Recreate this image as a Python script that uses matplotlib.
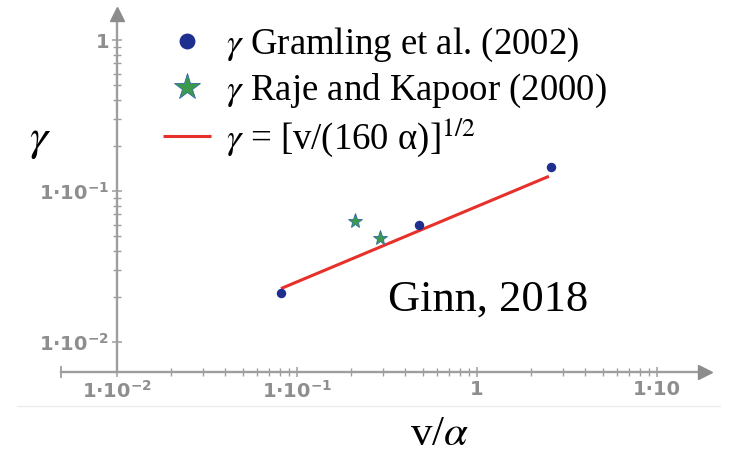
import numpy as np
import matplotlib
matplotlib.use("Agg")
import matplotlib.pyplot as plt
from matplotlib.lines import Line2D
from matplotlib.ticker import NullFormatter

# =========================================================
# Data
# =========================================================

gram_x = [0.082, 0.478, 2.58]
gram_y = [0.021, 0.0596, 0.1435]

raje_x = [0.21, 0.289]
raje_y = [0.0637, 0.0491]

fit_x = [0.0815, 2.51]
fit_y = [0.0226, 0.1252]

x_ticks = [0.01, 0.1, 1, 10]
x_labels = [r"1·10$^{\mathbf{-2}}$", r"1·10$^{\mathbf{-1}}$", "1", "1·10"]
y_ticks = [0.01, 0.1, 1]
y_labels = [r"1·10$^{\mathbf{-2}}$", r"1·10$^{\mathbf{-1}}$", "1"]

# =========================================================
# Style
# =========================================================

plt.rcParams["font.family"] = ["Liberation Serif", "DejaVu Serif"]
plt.rcParams["mathtext.fontset"] = "stix"

AXIS_COLOR = "#9e9e9e"
LABEL_COLOR = "#8e8e8e"
AXIS_Y = 10 ** -2.2

fig = plt.figure(figsize=(7.36, 4.55), dpi=100)
ax = fig.add_axes([0, 0, 1, 1])
ax.set_facecolor("none")

ax.set_xscale("log")
ax.set_yscale("log")
ax.set_xlim(10 ** -2.65, 10 ** 1.439)
ax.set_ylim(10 ** -2.748, 10 ** 0.265)

# =========================================================
# Axes drawn Mathcad style
# =========================================================

for side in ["top", "right"]:
    ax.spines[side].set_visible(False)

ax.spines["left"].set_position(("data", 0.01))
ax.spines["bottom"].set_position(("data", AXIS_Y))
ax.spines["left"].set_bounds(AXIS_Y, 10 ** 0.14)
ax.spines["bottom"].set_bounds(10 ** -2.31, 10 ** 1.23)
for side in ["left", "bottom"]:
    ax.spines[side].set_color(AXIS_COLOR)
    ax.spines[side].set_linewidth(1.7)

# arrow heads and left end cap
ax.plot([10 ** 1.265], [AXIS_Y], marker=">", ms=10, color="#8c8c8c",
        clip_on=False, zorder=3)
ax.plot([0.01], [10 ** 0.172], marker="^", ms=10, color="#8c8c8c",
        clip_on=False, zorder=3)
ax.plot([10 ** -2.31], [AXIS_Y], marker="|", ms=9, mew=1.3,
        color=AXIS_COLOR, clip_on=False)

minor_x = [k * 10.0 ** e for e in (-2, -1, 0) for k in range(2, 10)]
minor_y = [k * 10.0 ** e for e in (-2, -1) for k in range(2, 10)]

ax.set_xticks(x_ticks, labels=x_labels)
ax.set_yticks(y_ticks, labels=y_labels)
ax.set_xticks(minor_x, minor=True)
ax.set_yticks(minor_y, minor=True)
ax.xaxis.set_minor_formatter(NullFormatter())
ax.yaxis.set_minor_formatter(NullFormatter())

ax.tick_params(which="major", direction="inout", length=7.5, width=1.1,
               color=AXIS_COLOR, pad=2, labelsize=14,
               labelcolor=LABEL_COLOR)
ax.tick_params(which="minor", direction="inout", length=6, width=1.0,
               color=AXIS_COLOR)
for lab in ax.get_xticklabels() + ax.get_yticklabels():
    lab.set_family("DejaVu Sans")
    lab.set_weight("bold")
    lab.set_math_fontfamily("dejavusans")

# =========================================================
# Data marks
# =========================================================

ax.plot(fit_x, fit_y, color="#e8302a", lw=2.2, solid_capstyle="butt",
        label=r"$\gamma$ = [v/(160 α)]$^{1/2}$", zorder=4)
ax.plot(gram_x, gram_y, ls="none", marker="o", ms=5.8, color="#1f2f8f",
        label=r"$\gamma$ Gramling et al. (2002)", zorder=5)
ax.plot(raje_x, raje_y, ls="none", marker="*", ms=11, mfc="#3c9a4c",
        mec="#2f6a9f", mew=0.6, label=r"$\gamma$ Raje and Kapoor (2000)",
        zorder=5)

handles, labels = ax.get_legend_handles_labels()
order = [1, 2, 0]
ax.legend([handles[i] for i in order], [labels[i] for i in order],
          loc="upper left", bbox_to_anchor=(163 / 736, 1 - 26 / 455),
          bbox_transform=fig.transFigure, frameon=False, fontsize=26.5,
          handlelength=1.3, handletextpad=0.4, labelspacing=0.2,
          borderpad=0, borderaxespad=0, markerscale=1.8)

# =========================================================
# Labels and annotation
# =========================================================

fig.text(40 / 736, 1 - 140 / 455, r"$\gamma$", fontsize=33,
         ha="center", va="center")
fig.text(440 / 736, 1 - 435 / 455, r"v/$\alpha$", fontsize=31,
         ha="center", va="center")
fig.text(388 / 736, 1 - 300 / 455, "Ginn, 2018", fontsize=32,
         ha="left", va="center")

fig.add_artist(Line2D([17 / 736, 720 / 736], [1 - 406 / 455, 1 - 406 / 455],
                      transform=fig.transFigure, color="#ececec", lw=1))

fig.savefig("out.png", dpi=100)
